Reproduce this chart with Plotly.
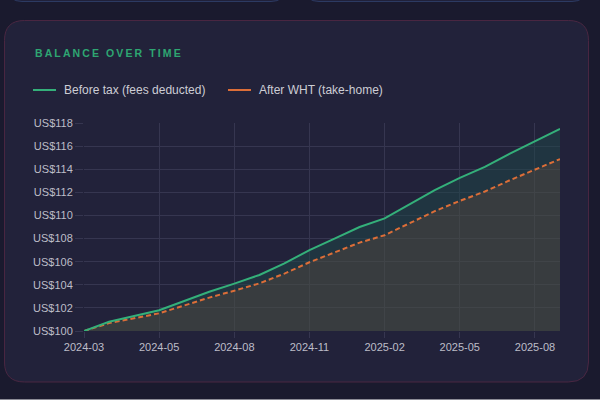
import plotly.graph_objects as go

# snapshot dates (category axis) and the labels shown on the x axis
dates = ["2024-03-01", "2024-03-21", "2024-04-10", "2024-05-01", "2024-06-01",
         "2024-07-01", "2024-08-01", "2024-09-01", "2024-10-01", "2024-11-01",
         "2024-12-01", "2025-01-01", "2025-02-01", "2025-03-01", "2025-04-01",
         "2025-05-01", "2025-06-01", "2025-07-01", "2025-08-01", "2025-09-01"]
tick_dates = ["2024-03-01", "2024-05-01", "2024-08-01", "2024-11-01",
              "2025-02-01", "2025-05-01", "2025-08-01"]
tick_labels = ["2024-03", "2024-05", "2024-08", "2024-11",
               "2025-02", "2025-05", "2025-08"]

before_tax = [100.0, 100.8, 101.3, 101.8, 102.6, 103.4, 104.1, 104.85, 105.85, 107.0,
              108.0, 109.0, 109.75, 111.0, 112.2, 113.25, 114.2, 115.35, 116.45, 117.5]
after_wht = [100.0, 100.68, 101.1, 101.53, 102.21, 102.89, 103.49, 104.12, 104.97, 105.95,
             106.8, 107.65, 108.29, 109.35, 110.37, 111.26, 112.07, 113.05, 113.98, 114.88]

names = ["Before tax (fees deducted)", "After WHT (take-home)"]

GREEN = "#34b07a"
ORANGE = "#dc6e38"
GRID = "#363650"
TXT = "#bdbdc8"

# plot area in pixels
W, H = 600, 400
ML, MR, MT, MB = 84, 40, 123, 69
PW, PH = W - ML - MR, H - MT - MB


def px(x):
    return (x - ML) / PW


def py(y):
    return (H - MB - y) / PH


def rrect(x0, y0, x1, y1, r):
    p = lambda x, y: f"{px(x):.5f},{py(y):.5f}"
    return (f"M {p(x0 + r, y0)} L {p(x1 - r, y0)} Q {p(x1, y0)} {p(x1, y0 + r)} "
            f"L {p(x1, y1 - r)} Q {p(x1, y1)} {p(x1 - r, y1)} L {p(x0 + r, y1)} "
            f"Q {p(x0, y1)} {p(x0, y1 - r)} L {p(x0, y0 + r)} Q {p(x0, y0)} {p(x0 + r, y0)} Z")


fig = go.Figure()

fig.add_trace(go.Scatter(
    x=dates, y=after_wht, name=names[1], mode="lines",
    line=dict(color=ORANGE, width=2, dash="5px,3px"),
    fill="tozeroy", fillcolor="rgba(72,78,66,0.6)",
))
fig.add_trace(go.Scatter(
    x=dates, y=before_tax, name=names[0], mode="lines",
    line=dict(color=GREEN, width=2),
    fill="tonexty", fillcolor="rgba(30,72,72,0.5)",
))

shapes = [
    # neighbouring cards peeking in at the top
    dict(type="path", path=rrect(8, -40, 285, 1.5, 14), xref="paper", yref="paper",
         line=dict(color="#2c3a62", width=1), fillcolor="#20213a", layer="below"),
    dict(type="path", path=rrect(305, -40, 586, 1.5, 14), xref="paper", yref="paper",
         line=dict(color="#2c3a62", width=1), fillcolor="#20213a", layer="below"),
    # main card
    dict(type="path", path=rrect(4.5, 20.5, 588.5, 382, 20), xref="paper", yref="paper",
         line=dict(color="#4a2742", width=1), fillcolor="#22223a", layer="below"),
    # legend swatches
    dict(type="line", xref="paper", yref="paper", x0=px(33), x1=px(56), y0=py(90), y1=py(90),
         line=dict(color=GREEN, width=2)),
    dict(type="line", xref="paper", yref="paper", x0=px(228), x1=px(251), y0=py(90), y1=py(90),
         line=dict(color=ORANGE, width=2)),
    dict(type="line", xref="paper", yref="paper", x0=px(0), x1=px(600), y0=py(399.5), y1=py(399.5),
         line=dict(color="#8c8c96", width=1)),
]

title = "\u2009".join("BALANCE OVER TIME")
annotations = [
    dict(text=f"<b>{title}</b>", x=px(33), y=py(53), xref="paper", yref="paper",
         xanchor="left", yanchor="middle", showarrow=False,
         font=dict(size=10.5, color="#2ea672", family="Liberation Sans, Arial")),
    dict(text=names[0], x=px(62), y=py(90), xref="paper", yref="paper",
         xanchor="left", yanchor="middle", showarrow=False,
         font=dict(size=12, color="#cdcdd5")),
    dict(text=names[1], x=px(257), y=py(90), xref="paper", yref="paper",
         xanchor="left", yanchor="middle", showarrow=False,
         font=dict(size=12, color="#cdcdd5")),
]

fig.update_layout(
    width=W, height=H,
    margin=dict(l=ML, r=MR, t=MT, b=MB),
    paper_bgcolor="#1a1a2e", plot_bgcolor="rgba(0,0,0,0)",
    font=dict(family="Liberation Sans, Arial", size=11, color=TXT),
    showlegend=False,
    shapes=shapes, annotations=annotations,
)

fig.update_xaxes(
    type="category", range=[0, len(dates) - 1],
    tickvals=tick_dates, ticktext=tick_labels,
    showgrid=True, gridcolor=GRID, gridwidth=1,
    ticks="outside", ticklen=6, tickcolor=GRID,
    showline=False, zeroline=False,
    tickfont=dict(size=11, color=TXT),
)
fig.update_yaxes(
    range=[100, 118], dtick=2, tickprefix="US$",
    showgrid=True, gridcolor=GRID, gridwidth=1,
    ticks="outside", ticklen=8, tickcolor=GRID,
    showline=False, zeroline=False,
    tickfont=dict(size=11, color=TXT),
)

# page body has a default 8px margin; drop it so the figure sits at the window corner
fig.write_html("out.html",
               config={"displayModeBar": False},
               post_script="document.body.style.margin='0px';"
                           "document.body.style.background='#1a1a2e';")
